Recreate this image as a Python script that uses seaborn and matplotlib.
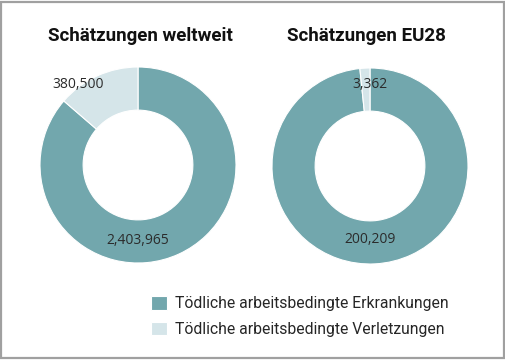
import matplotlib
matplotlib.use("Agg")
import matplotlib.pyplot as plt
from matplotlib.patches import Rectangle
import seaborn as sns

titles = ["Schätzungen weltweit", "Schätzungen EU28"]
categories = ["Tödliche arbeitsbedingte Erkrankungen", "Tödliche arbeitsbedingte Verletzungen"]
diseases = [2403965, 200209]
injuries = [380500, 3362]
disease_labels = ["2,403,965", "200,209"]
injury_labels = ["380,500", "3,362"]

sns.set_theme(style="white")
plt.rcParams["font.family"] = ["Roboto", "DejaVu Sans"]

colors = ["#72a7ad", "#d5e5e9"]
W, H = 506, 360
fig = plt.figure(figsize=(W / 100, H / 100), dpi=100)
fig.patch.set_facecolor("white")

centers = [(138, 165), (370, 166)]
R = 98
inj_pos = [(-0.61, 0.82), (0.0, 0.83)]
dis_pos = [(0.0, -0.77), (0.0, -0.75)]
title_x = [140, 366]

wedges_all = None
for i in range(2):
    cx, cy = centers[i]
    ax = fig.add_axes([(cx - R) / W, (H - cy - R) / H, 2 * R / W, 2 * R / H])
    wedges, _ = ax.pie([diseases[i], injuries[i]], colors=colors, startangle=90,
                       counterclock=False, radius=1,
                       wedgeprops=dict(width=0.44, edgecolor="white", linewidth=0.8))
    if wedges_all is None:
        wedges_all = wedges
    ax.set_xlim(-1, 1)
    ax.set_ylim(-1, 1)
    ax.set_aspect("equal")
    ax.axis("off")
    ax.text(*inj_pos[i], injury_labels[i], ha="center", va="center",
            fontsize=10, color="#2b2b2b", family=["Open Sans", "DejaVu Sans"])
    ax.text(*dis_pos[i], disease_labels[i], ha="center", va="center",
            fontsize=10, color="#2b2b2b", family=["Open Sans", "DejaVu Sans"])
    fig.text(title_x[i] / W, (H - 36) / H, titles[i], ha="center", va="center",
             fontsize=13.5, fontweight="bold", color="#111111")

fig.legend(wedges_all, categories, loc="upper left",
           bbox_to_anchor=(151 / W, (H - 296) / H), frameon=False,
           fontsize=11.3, handlelength=1.0, handleheight=0.95,
           handletextpad=0.5, labelspacing=0.68, borderpad=0, borderaxespad=0)

fig.patches.append(Rectangle((1 / W, 2.5 / H), 503 / W, 356 / H, transform=fig.transFigure,
                             fill=False, edgecolor="#a0a0a0", linewidth=1.6))
fig.savefig("out.png", dpi=100, facecolor="white")
